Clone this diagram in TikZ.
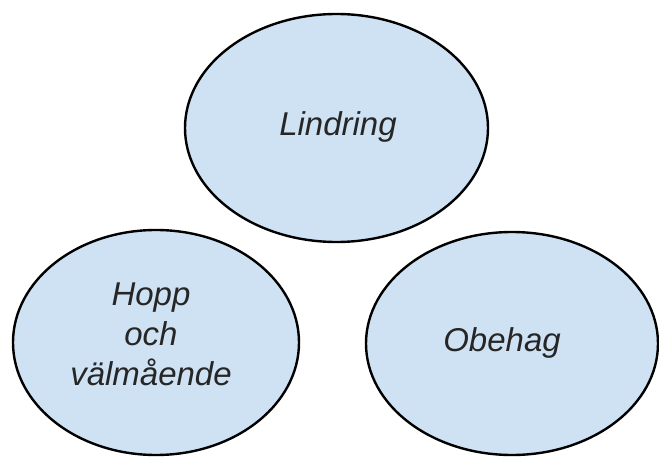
\documentclass[tikz,border=0pt]{standalone}
\usepackage{fontspec}
\setmainfont{Liberation Sans}
\usetikzlibrary{shapes.geometric}
\definecolor{bubblefill}{HTML}{CFE2F3}
\begin{document}
\begin{tikzpicture}[x=1pt,y=-1pt,
  bubble/.style={ellipse, draw=black, line width=2.4pt, fill=bubblefill, inner sep=0pt},
  lbl/.style={font=\fontsize{33}{40}\selectfont\itshape, align=center, inner sep=0pt, text=black!85}]
\useasboundingbox (0,0) rectangle (659,457);
\node[bubble, minimum width=303pt, minimum height=228pt] (lindring) at (336.5,128) {};
\node[bubble, minimum width=286pt, minimum height=225pt] (hopp) at (156,342.5) {};
\node[bubble, minimum width=292pt, minimum height=223pt] (obehag) at (512,343.5) {};
\node[lbl] (lindringtext) at (338,126.5) {Lindring};
\node[lbl] (hopptext) at (151,334) {Hopp\\och\\välmående};
\node[lbl] (obehagtext) at (502,343) {Obehag};
\end{tikzpicture}
\end{document}
